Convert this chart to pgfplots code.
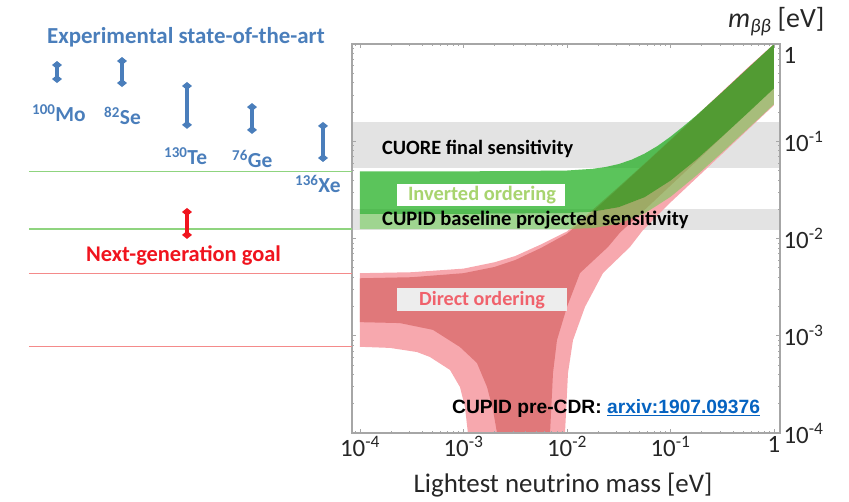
\documentclass[border=0pt]{standalone}
\usepackage{pgfplots}
\pgfplotsset{compat=1.18}
\usepackage{fontspec}
\setmainfont{Carlito}
\newfontfamily\arial{Liberation Sans}
\usetikzlibrary{arrows.meta}
\definecolor{isoblue}{HTML}{4A7EBB}
\definecolor{nored}{HTML}{E0787A}
\definecolor{nopink}{HTML}{F7A8AE}
\definecolor{iogreen}{rgb}{0.086,0.671,0.086}
\definecolor{iolight}{rgb}{0.45,0.80,0.35}
\definecolor{bandgray}{HTML}{E3E3E3}
\definecolor{linkblue}{HTML}{0563C1}
\definecolor{ngred}{HTML}{F0141E}
\definecolor{iotext}{HTML}{A8D46F}
\definecolor{dotext}{HTML}{F0626C}
\definecolor{axgray}{HTML}{A6A6A6}
\definecolor{linegreen}{HTML}{8FD47F}
\definecolor{linered}{HTML}{F48A8A}
\tikzset{rangearrow/.style={line width=3.4bp, {Diamond[length=8bp,width=10bp]}-{Diamond[length=8bp,width=10bp]}}}
\begin{document}
\begin{tikzpicture}
\path[use as bounding box] (-352bp,-69bp) rectangle (497bp,433bp);
% ---------------- main axis ----------------
\begin{axis}[
  at={(0,0)}, anchor=south west, scale only axis,
  width=428bp, height=389bp,
  xmode=log, ymode=log,
  xmin=8.375e-5, xmax=1.143, ymin=1e-4, ymax=1,
  axis on top,
  axis line style={axgray, line width=1.2bp},
  tick style={axgray, line width=0.6bp},
  major tick length=4bp, minor tick length=2.5bp,
  xtick={1e-4,1e-3,1e-2,1e-1,1},
  xticklabels={10\textsuperscript{-4},10\textsuperscript{-3},10\textsuperscript{-2},10\textsuperscript{-1},1},
  minor xtick={9e-5,2e-4,3e-4,4e-4,5e-4,6e-4,7e-4,8e-4,9e-4,2e-3,3e-3,4e-3,5e-3,6e-3,7e-3,8e-3,9e-3,2e-2,3e-2,4e-2,5e-2,6e-2,7e-2,8e-2,9e-2,0.2,0.3,0.4,0.5,0.6,0.7,0.8,0.9},
  ytick={1e-4,1e-3,1e-2,1e-1,1},
  yticklabels={10\textsuperscript{-4},10\textsuperscript{-3},10\textsuperscript{-2},10\textsuperscript{-1},\smash{\raisebox{-19bp}{1}}},
  minor ytick={2e-4,3e-4,4e-4,5e-4,6e-4,7e-4,8e-4,9e-4,2e-3,3e-3,4e-3,5e-3,6e-3,7e-3,8e-3,9e-3,2e-2,3e-2,4e-2,5e-2,6e-2,7e-2,8e-2,9e-2,0.2,0.3,0.4,0.5,0.6,0.7,0.8,0.9},
  yticklabel pos=right,
  ticklabel style={font=\fontsize{25}{27}\selectfont, text=black!85},
]
% sensitivity bands
\addplot[draw=none, fill=bandgray] coordinates {(5e-5,0.053) (2,0.053) (2,0.158) (5e-5,0.158)} -- cycle;
\addplot[draw=none, fill=bandgray] coordinates {(5e-5,0.0122) (2,0.0122) (2,0.0201) (5e-5,0.0201)} -- cycle;
% normal (direct) ordering, outer
\addplot[draw=none, fill=nopink] coordinates {
 (1e-4,0.0044) (3.16e-4,0.0045) (1e-3,0.0049) (2e-3,0.0057) (3.16e-3,0.0066) (5.62e-3,0.0087) (1e-2,0.0118) (1.78e-2,0.0198) (3.16e-2,0.034) (5.62e-2,0.059) (0.1,0.104) (0.178,0.183) (0.316,0.324) (0.562,0.575) (1,1.0)
 (1,0.235) (0.562,0.132) (0.316,0.0743) (0.178,0.0418) (0.1,0.0235) (0.0542,0.0122) (0.0406,0.00818) (0.0223,0.00442) (0.01493,0.00198) (0.01143,9.0e-4) (0.01023,4.14e-4) (0.00957,1e-4) (0.00944,1e-5)
 (1.109e-3,1e-5) (1.104e-3,1e-4) (1.033e-3,1.85e-4) (9.25e-4,2.97e-4) (7.41e-4,4.45e-4) (4.74e-4,6.05e-4) (3.56e-4,6.8e-4) (1.95e-4,7.5e-4) (1e-4,7.7e-4)} -- cycle;
% normal ordering, inner
\addplot[draw=none, fill=nored] coordinates {
 (1e-4,0.0039) (3.16e-4,0.0040) (1e-3,0.0044) (2e-3,0.0051) (3.16e-3,0.0060) (5.62e-3,0.0080) (1e-2,0.0112) (1.78e-2,0.0190) (3.16e-2,0.033) (5.62e-2,0.058) (0.1,0.102) (0.178,0.181) (0.316,0.32) (0.562,0.57) (1,0.99)
 (1,0.35) (0.562,0.197) (0.316,0.111) (0.178,0.0623) (0.1,0.035) (0.0562,0.0197) (0.0325,0.0115) (0.0249,0.00818) (0.01337,0.00442) (0.01,0.00198) (0.008,9.0e-4) (0.00733,4.14e-4) (0.00686,1e-4) (0.00676,1e-5)
 (2.14e-3,1e-5) (2.11e-3,1e-4) (1.93e-3,1.72e-4) (1.69e-3,2.97e-4) (1.35e-3,5.25e-4) (9.25e-4,7.66e-4) (5.07e-4,1.15e-3) (2.43e-4,1.35e-3) (1e-4,1.38e-3)} -- cycle;
% inverted ordering, outer strip
\addplot[draw=none, fill=iolight, fill opacity=0.6] coordinates {
 (1e-4,0.0179) (1e-3,0.0179) (0.01,0.0182) (0.0178,0.0189) (0.0316,0.021) (0.0562,0.0266) (0.1,0.0394) (0.178,0.0648) (0.316,0.112) (0.562,0.197) (1,0.35)
 (1,0.24) (0.562,0.135) (0.316,0.0768) (0.178,0.0444) (0.1,0.0268) (0.0562,0.0181) (0.0316,0.0142) (0.0178,0.0128) (0.01,0.0125) (1e-3,0.0125) (1e-4,0.0125)} -- cycle;
% inverted ordering, inner
\addplot[draw=none, fill=iogreen, fill opacity=0.7] coordinates {
 (1e-4,0.049) (1e-3,0.049) (1e-2,0.050) (0.0178,0.0521) (0.0237,0.0544) (0.0316,0.0583) (0.0422,0.0647) (0.0562,0.0746) (0.075,0.0895) (0.1,0.1114) (0.133,0.142) (0.178,0.1844) (0.316,0.32) (0.562,0.564) (1,1.0)
 (1,0.35) (0.562,0.197) (0.316,0.112) (0.178,0.0648) (0.1,0.0394) (0.0562,0.0266) (0.0316,0.021) (0.0178,0.0189) (0.01,0.0182) (1e-3,0.0179) (1e-4,0.0179)} -- cycle;
\end{axis}
% ---------------- left annotation axis ----------------
\begin{axis}[
  at={(-352bp,0)}, anchor=south west, scale only axis,
  width=352bp, height=389bp,
  xmin=0, xmax=352, ymode=log, ymin=1e-4, ymax=1,
  hide axis, clip=false,
]
\addplot[linegreen, line width=1.3bp] coordinates {(29,0.049) (352,0.049)};
\addplot[linegreen, line width=1.3bp] coordinates {(29,0.0125) (352,0.0125)};
\addplot[linered, line width=1.3bp] coordinates {(29,0.0044) (352,0.0044)};
\addplot[linered, line width=1.3bp] coordinates {(29,7.8e-4) (352,7.8e-4)};
\addplot[isoblue, rangearrow] coordinates {(57,0.668) (57,0.397)};
\addplot[isoblue, rangearrow] coordinates {(122,0.735) (122,0.361)};
\addplot[isoblue, rangearrow] coordinates {(187,0.407) (187,0.134)};
\addplot[isoblue, rangearrow] coordinates {(252,0.247) (252,0.119)};
\addplot[isoblue, rangearrow] coordinates {(323,0.158) (323,0.0612)};
\addplot[ngred, rangearrow] coordinates {(187,0.0206) (187,0.0099)};
\end{axis}
% ---------------- texts (pixel frame) ----------------
\begin{scope}[shift={(-352bp,433bp)}, x=1bp, y=-1bp]
\node[anchor=base west, inner sep=0, text=isoblue, font=\bfseries\fontsize{23}{26}\selectfont] at (47,44) {Experimental state-of-the-art};
\node[anchor=base west, inner sep=0, text=isoblue, font=\bfseries\fontsize{21.5}{24}\selectfont] at (32,122) {\textsuperscript{100}Mo};
\node[anchor=base west, inner sep=0, text=isoblue, font=\bfseries\fontsize{21.5}{24}\selectfont] at (104,125) {\textsuperscript{82}Se};
\node[anchor=base west, inner sep=0, text=isoblue, font=\bfseries\fontsize{21.5}{24}\selectfont] at (164,165) {\textsuperscript{130}Te};
\node[anchor=base west, inner sep=0, text=isoblue, font=\bfseries\fontsize{21.5}{24}\selectfont] at (232,168) {\textsuperscript{76}Ge};
\node[anchor=base west, inner sep=0, text=isoblue, font=\bfseries\fontsize{21.5}{24}\selectfont] at (295,193) {\textsuperscript{136}Xe};
\node[anchor=base west, inner sep=0, text=ngred, font=\bfseries\fontsize{22.5}{25}\selectfont] at (86,262) {Next-generation goal};
\node[anchor=base west, inner sep=0, text=black, font=\bfseries\fontsize{20.4}{23}\selectfont] at (382,155) {CUORE final sensitivity};
\node[anchor=base west, inner sep=0, text=black, font=\bfseries\fontsize{20.6}{23}\selectfont] at (382,226) {CUPID baseline projected sensitivity};
\fill[white] (397,184) rectangle (565,206);
\node[text=iotext, inner sep=0, font=\bfseries\fontsize{20.5}{22}\selectfont] at (482,195) {Inverted ordering};
\fill[black!7] (397,288) rectangle (567,311);
\node[text=dotext, inner sep=0, font=\bfseries\fontsize{20.2}{22}\selectfont] at (482,300) {Direct ordering};
\node[anchor=base west, inner sep=0, font=\arial\bfseries\fontsize{19.3}{22}\selectfont] at (452,414) {CUPID pre-CDR: {\color{linkblue}\underline{arxiv:1907.09376}}};
\node[anchor=base west, inner sep=0, text=black!85, font=\fontsize{28}{30}\selectfont] at (728,28) {\textit{m}\textsubscript{\textit{ββ}} [eV]};
\node[anchor=base, inner sep=0, text=black!85, font=\fontsize{27}{29}\selectfont] at (563,493) {Lightest neutrino mass [eV]};
\end{scope}
\end{tikzpicture}
\end{document}
